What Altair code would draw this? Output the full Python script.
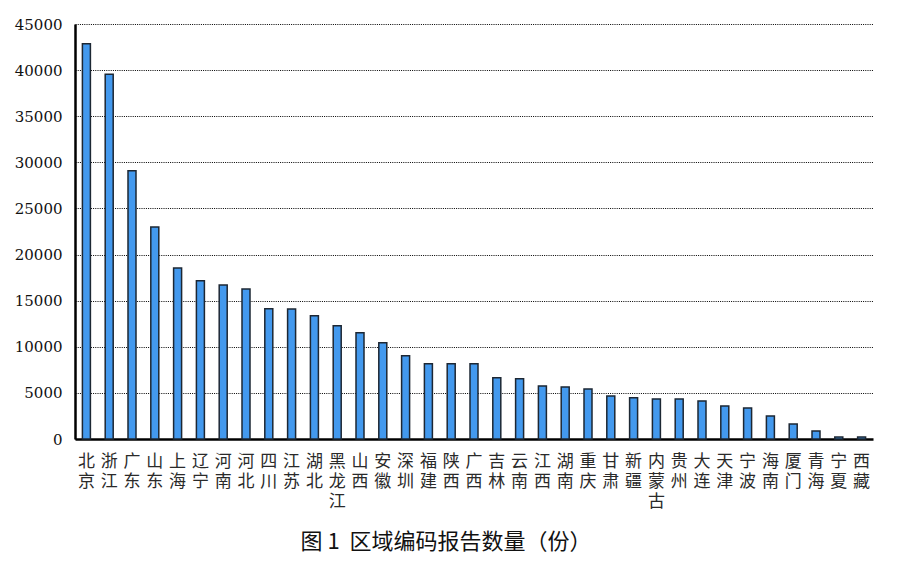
import altair as alt
import pandas as pd

regions = ["北京", "浙江", "广东", "山东", "上海", "辽宁", "河南", "河北", "四川", "江苏",
           "湖北", "黑龙江", "山西", "安徽", "深圳", "福建", "陕西", "广西", "吉林", "云南",
           "江西", "湖南", "重庆", "甘肃", "新疆", "内蒙古", "贵州", "大连", "天津", "宁波",
           "海南", "厦门", "青海", "宁夏", "西藏"]
counts = [42850, 39560, 29100, 23000, 18550, 17170, 16700, 16270, 14130, 14100,
          13370, 12280, 11520, 10430, 9020, 8150, 8150, 8150, 6630, 6520,
          5760, 5650, 5430, 4670, 4460, 4350, 4350, 4130, 3590, 3370,
          2500, 1630, 870, 220, 220]
y_ticks = list(range(0, 45001, 5000))

df = pd.DataFrame({"region": regions, "count": counts})

serif = "DejaVu Serif"
cjk = "Noto Sans CJK SC"

chart = alt.Chart(df).mark_bar(
    size=8, color="#4399EE", stroke="#1d2733", strokeWidth=1.5
).encode(
    x=alt.X("region:N", sort=regions, title=None,
            scale=alt.Scale(paddingInner=0, paddingOuter=0),
            axis=alt.Axis(labelAngle=0, labelExpr="split(datum.label, '')",
                          labelFont=cjk, labelFontSize=17,
                          labelColor="#2a2a2a", labelLineHeight=20,
                          labelPadding=14, ticks=False, domainColor="#000000",
                          domainWidth=2.5, grid=False, labelBaseline="top")),
    y=alt.Y("count:Q", title=None,
            scale=alt.Scale(domain=[0, 45000], nice=False),
            axis=alt.Axis(values=y_ticks, labelFont=serif, labelFontSize=15,
                          labelColor="#111111", labelPadding=13, ticks=False,
                          domainColor="#000000", domainWidth=2.5,
                          grid=True, gridColor="#000000", gridDash=[1, 1.2],
                          gridWidth=1.2, format="d")),
).properties(
    width=798, height=415,
    title=alt.TitleParams("图\u00a01\u00a0\u00a0区域编码报告数量（份）", orient="bottom",
                          font=cjk, fontSize=22, fontWeight="normal",
                          color="#111111", offset=23, anchor="middle", dx=-28),
    autosize=alt.AutoSizeParams(type="none"),
    padding={"left": 75, "top": 24, "right": 29, "bottom": 130},
).configure_view(stroke=None)

chart.save("out.html", embed_options={"renderer": "svg", "actions": False})
